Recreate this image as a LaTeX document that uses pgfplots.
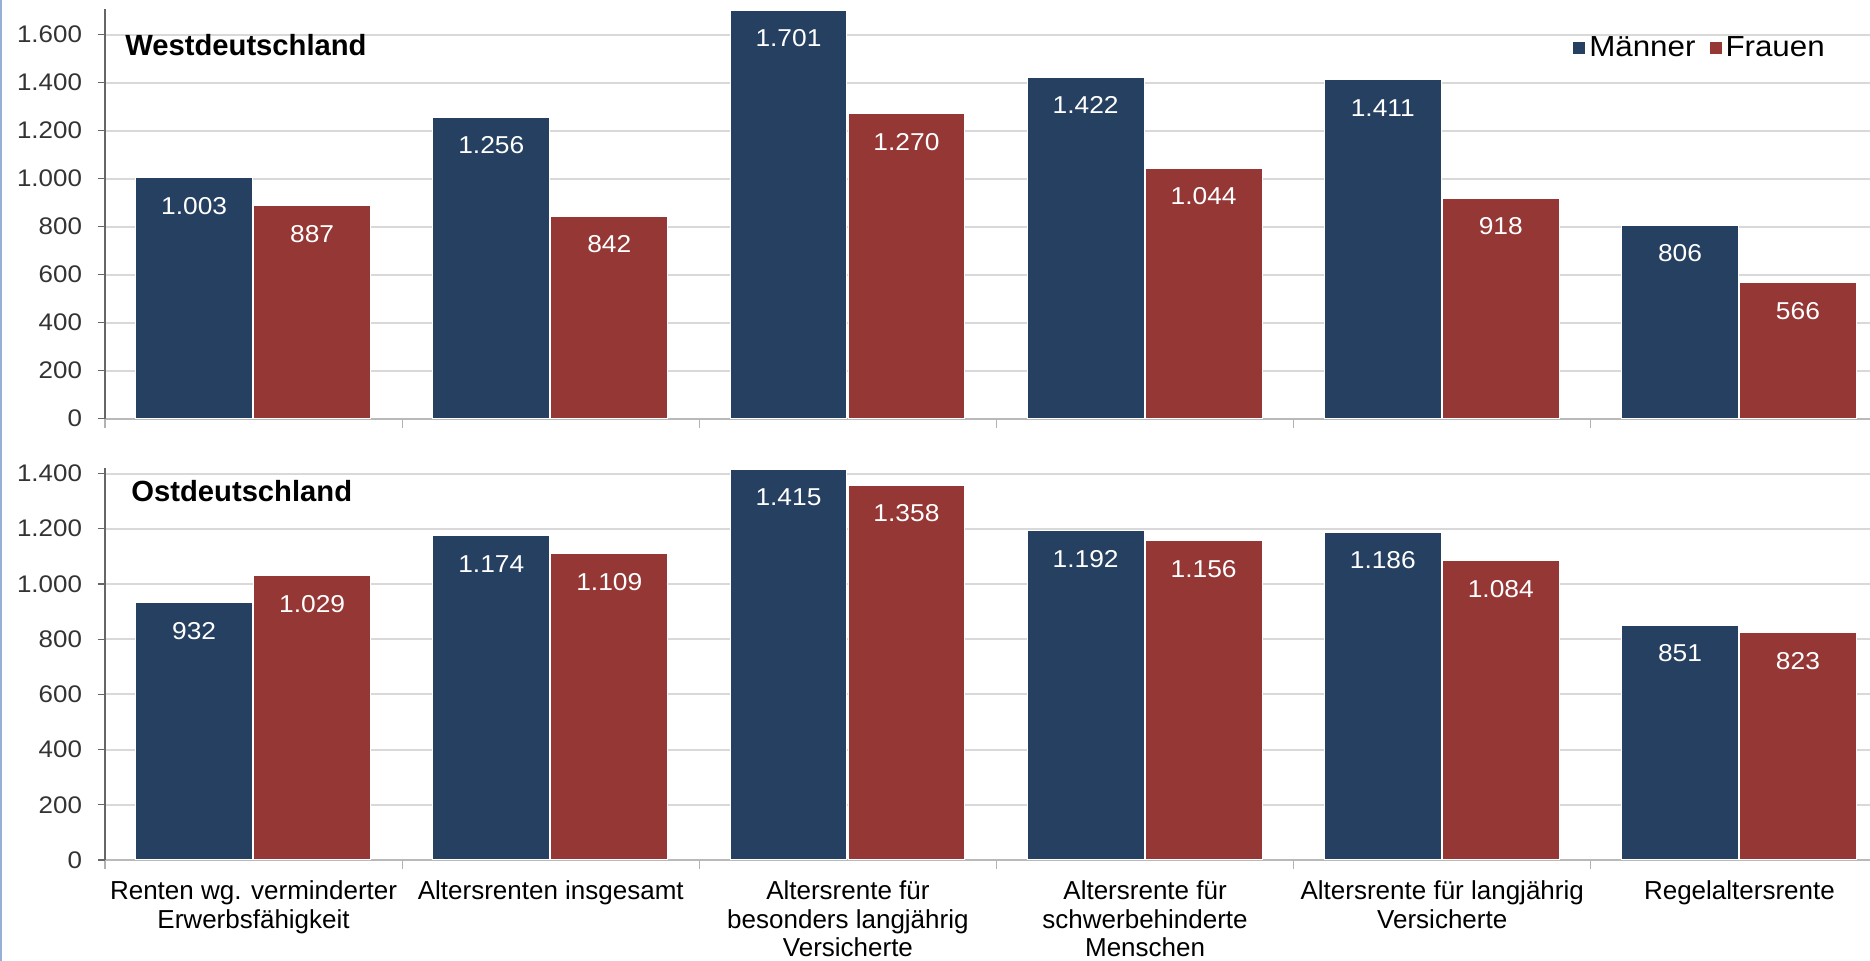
\documentclass[border=0pt]{standalone}
\usepackage{fontspec}
\setmainfont{Liberation Sans}
\newfontfamily\numfont{Liberation Sans}[FakeStretch=1.08]
\usepackage{pgfplots}
\pgfplotsset{compat=1.18}
\definecolor{mblue}{HTML}{264061}
\definecolor{fred}{HTML}{953735}
\pgfplotsset{
  rentenbase/.style={
    scale only axis, width=891.5pt,
    xmin=-0.5, xmax=5.5, ymin=0,
    ybar, bar width=0.393,
    axis x line*=bottom, axis y line*=left,
    axis line style={-},
    x axis line style={draw=gray!55, line width=1pt},
    y axis line style={draw=black!60, line width=0.6pt},
    ymajorgrids, grid style={draw=gray!30, line width=1pt},
    xtick={0,...,5},
    minor xtick={-0.5,0.5,...,5.5},
    tick align=outside,
    major tick length=3.5pt, minor tick length=4.5pt,
    xtick style={draw=none},
    minor x tick style={draw=gray!60, line width=0.6pt},
    ytick style={draw=black!60, line width=0.6pt},
    /pgf/number format/.cd, fixed, precision=0, 1000 sep={.}, assume math mode=true,
    /pgfplots/.cd,
    yticklabel style={font=\numfont\fontsize{12}{14}\selectfont, text=black!80, xshift=-4.5pt},
    nodes near coords,
    every node near coord/.append style={font=\numfont\fontsize{12.2}{14}\selectfont, text=white, anchor=center, yshift=-14pt},
    legend image code/.code={\fill[#1,draw=none] (0pt,-3pt) rectangle (6pt,3pt);},
  },
  mstyle/.style={fill=mblue, draw=white, line width=0.5pt, bar shift=-0.2},
  fstyle/.style={fill=fred, draw=white, line width=0.5pt, bar shift=0.197},
}
\begin{document}
\begin{tikzpicture}
\begin{axis}[rentenbase,
  at={(52.5pt,271.2pt)}, anchor=south west,
  height=204.6pt, ymax=1705,
  ytick={0,200,...,1600},
  xticklabel=\empty,
  legend style={at={(axis description cs:0.967,0.906)}, anchor=east, draw=none, fill=none,
    legend columns=2, font=\numfont\fontsize{14.5}{16}\selectfont, inner sep=0pt,
    /tikz/every even column/.append style={column sep=5pt},
    nodes={inner xsep=2pt}},
]
\addplot[mstyle] coordinates {(0,1003) (1,1256) (2,1701) (3,1422) (4,1411) (5,806)};
\addplot[fstyle] coordinates {(0,887) (1,842) (2,1270) (3,1044) (4,918) (5,566)};
\legend{Männer,Frauen}
\node[anchor=west, inner sep=0pt, font=\bfseries\fontsize{14.6}{16}\selectfont] at (axis description cs:0.0112,0.913) {Westdeutschland};
\end{axis}
\begin{axis}[rentenbase,
  at={(52.5pt,50.5pt)}, anchor=south west,
  height=196pt, ymax=1420,
  ytick={0,200,...,1400},
  xticklabels={{Renten wg. verminderter\\Erwerbsfähigkeit},{Altersrenten insgesamt},{Altersrente für\\besonders langjährig\\Versicherte},{Altersrente für\\schwerbehinderte\\Menschen},{Altersrente für langjährig\\Versicherte},{Regelaltersrente}},
  xticklabel style={align=center, font=\fontsize{13}{14.4}\selectfont, text=black, yshift=-3.2pt},
]
\addplot[mstyle] coordinates {(0,932) (1,1174) (2,1415) (3,1192) (4,1186) (5,851)};
\addplot[fstyle] coordinates {(0,1029) (1,1109) (2,1358) (3,1156) (4,1084) (5,823)};
\node[anchor=west, inner sep=0pt, font=\bfseries\fontsize{14.6}{16}\selectfont] at (axis description cs:0.0146,0.941) {Ostdeutschland};
\end{axis}
\draw[color={rgb,255:red,150;green,175;blue,210}, line width=1pt] (0.5pt,0pt) -- (0.5pt,480.5pt);
\pgfresetboundingbox
\useasboundingbox (0pt,0pt) rectangle (935pt,480.5pt);
\end{tikzpicture}
\end{document}
